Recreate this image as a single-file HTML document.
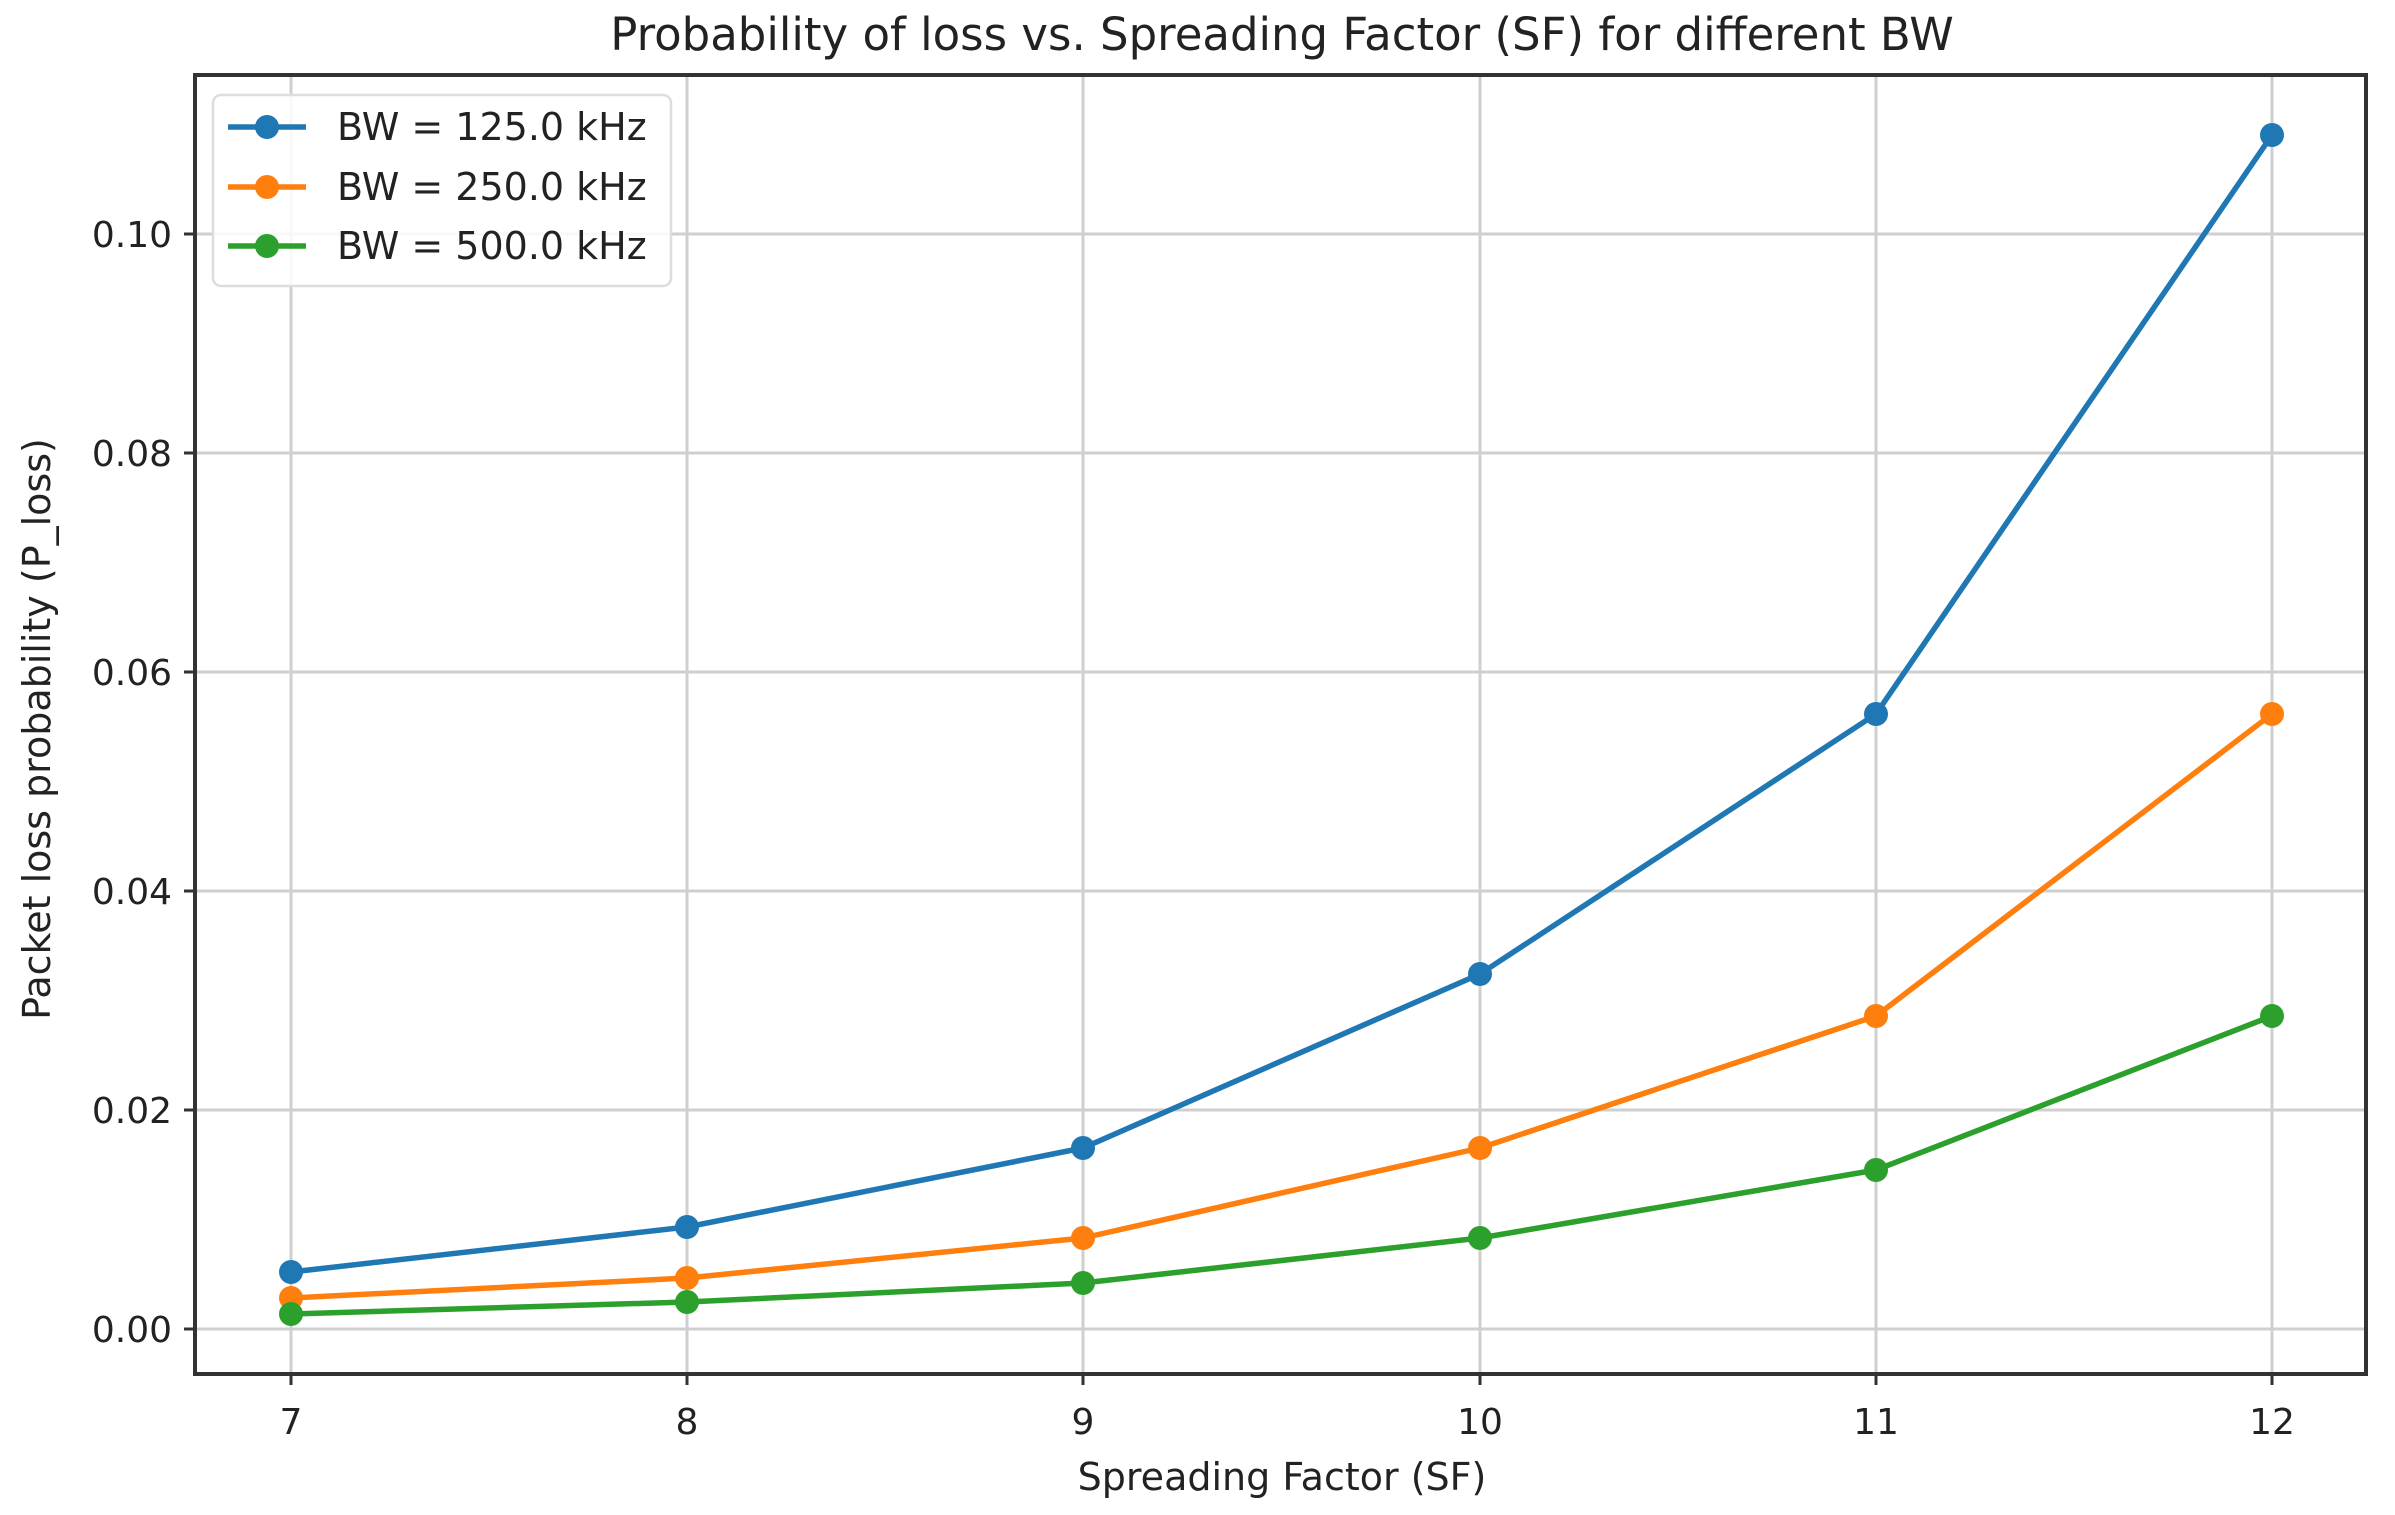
<!DOCTYPE html>
<html><head><meta charset="utf-8"><style>body{margin:0;background:#fff}svg{display:block}</style></head>
<body>
<svg width="2395" height="1515" viewBox="0 0 2395 1515" xmlns="http://www.w3.org/2000/svg" font-family="'DejaVu Sans','Liberation Sans',sans-serif" fill="#222">
<rect width="2395" height="1515" fill="#fff"/>
<g stroke="#cfcfcf" stroke-width="3">
<line x1="291" y1="75" x2="291" y2="1374"/><line x1="687" y1="75" x2="687" y2="1374"/><line x1="1083" y1="75" x2="1083" y2="1374"/><line x1="1480" y1="75" x2="1480" y2="1374"/><line x1="1876" y1="75" x2="1876" y2="1374"/><line x1="2272" y1="75" x2="2272" y2="1374"/>
<line x1="195" y1="1329" x2="2366" y2="1329"/><line x1="195" y1="1110" x2="2366" y2="1110"/><line x1="195" y1="891" x2="2366" y2="891"/><line x1="195" y1="672" x2="2366" y2="672"/><line x1="195" y1="453" x2="2366" y2="453"/><line x1="195" y1="234" x2="2366" y2="234"/>
</g>
<g fill="none" stroke-width="5.5" stroke-linejoin="round">
<polyline stroke="#1f77b4" points="291,1272 687,1227 1083,1148 1480,974 1876,714 2272,135"/>
<polyline stroke="#ff7f0e" points="291,1298 687,1278 1083,1238 1480,1148 1876,1016 2272,714"/>
<polyline stroke="#2ca02c" points="291,1314 687,1302 1083,1283 1480,1238 1876,1170 2272,1016"/>
</g>
<g fill="#1f77b4"><circle cx="291" cy="1272" r="12"/><circle cx="687" cy="1227" r="12"/><circle cx="1083" cy="1148" r="12"/><circle cx="1480" cy="974" r="12"/><circle cx="1876" cy="714" r="12"/><circle cx="2272" cy="135" r="12"/></g>
<g fill="#ff7f0e"><circle cx="291" cy="1298" r="12"/><circle cx="687" cy="1278" r="12"/><circle cx="1083" cy="1238" r="12"/><circle cx="1480" cy="1148" r="12"/><circle cx="1876" cy="1016" r="12"/><circle cx="2272" cy="714" r="12"/></g>
<g fill="#2ca02c"><circle cx="291" cy="1314" r="12"/><circle cx="687" cy="1302" r="12"/><circle cx="1083" cy="1283" r="12"/><circle cx="1480" cy="1238" r="12"/><circle cx="1876" cy="1170" r="12"/><circle cx="2272" cy="1016" r="12"/></g>
<rect x="195" y="75" width="2171" height="1299" fill="none" stroke="#333" stroke-width="4"/>
<g stroke="#333" stroke-width="3">
<line x1="291" y1="1374" x2="291" y2="1385"/><line x1="687" y1="1374" x2="687" y2="1385"/><line x1="1083" y1="1374" x2="1083" y2="1385"/><line x1="1480" y1="1374" x2="1480" y2="1385"/><line x1="1876" y1="1374" x2="1876" y2="1385"/><line x1="2272" y1="1374" x2="2272" y2="1385"/>
<line x1="184" y1="1329" x2="195" y2="1329"/><line x1="184" y1="1110" x2="195" y2="1110"/><line x1="184" y1="891" x2="195" y2="891"/><line x1="184" y1="672" x2="195" y2="672"/><line x1="184" y1="453" x2="195" y2="453"/><line x1="184" y1="234" x2="195" y2="234"/>
</g>
<g font-size="36" text-anchor="middle">
<text x="291" y="1434">7</text><text x="687" y="1434">8</text><text x="1083" y="1434">9</text><text x="1480" y="1434">10</text><text x="1876" y="1434">11</text><text x="2272" y="1434">12</text>
</g>
<g font-size="36" text-anchor="end">
<text x="172" y="1342">0.00</text><text x="172" y="1123">0.02</text><text x="172" y="904">0.04</text><text x="172" y="685">0.06</text><text x="172" y="466">0.08</text><text x="172" y="247">0.10</text>
</g>
<text x="1282" y="50" font-size="45" text-anchor="middle">Probability of loss vs. Spreading Factor (SF) for different BW</text>
<text x="1282" y="1490" font-size="38" text-anchor="middle">Spreading Factor (SF)</text>
<text transform="translate(50,729) rotate(-90)" font-size="38" text-anchor="middle">Packet loss probability (P_loss)</text>
<rect x="213" y="95" width="458" height="191" rx="8" fill="#fff" fill-opacity="0.85" stroke="#ddd" stroke-width="2.5"/>
<g stroke-width="5.5"><line x1="228" y1="127" x2="306" y2="127" stroke="#1f77b4"/><line x1="228" y1="187" x2="306" y2="187" stroke="#ff7f0e"/><line x1="228" y1="246" x2="306" y2="246" stroke="#2ca02c"/></g>
<circle cx="267" cy="127" r="12" fill="#1f77b4"/><circle cx="267" cy="187" r="12" fill="#ff7f0e"/><circle cx="267" cy="246" r="12" fill="#2ca02c"/>
<g font-size="38"><text x="337" y="140">BW = 125.0 kHz</text><text x="337" y="200">BW = 250.0 kHz</text><text x="337" y="259">BW = 500.0 kHz</text></g>
</svg>
</body></html>
